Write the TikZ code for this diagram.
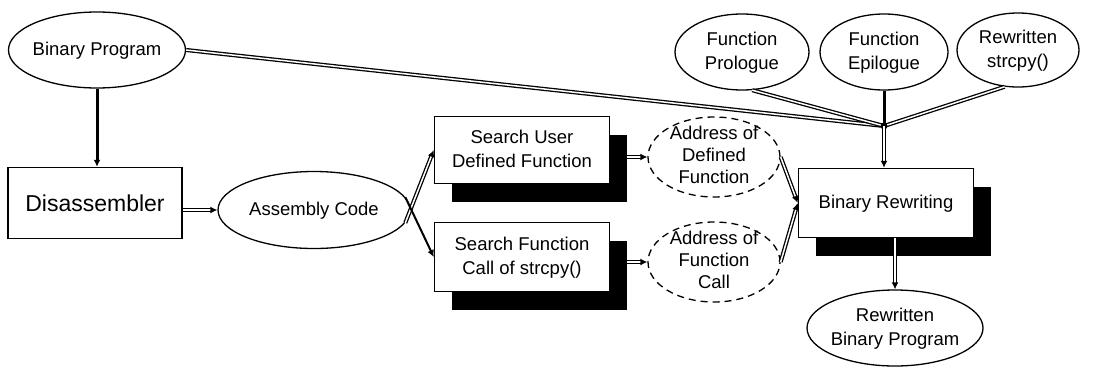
\documentclass[tikz,border=0pt]{standalone}
\usepackage{fontspec}
\setmainfont{Liberation Sans}
\usetikzlibrary{shapes.geometric,shadows,arrows.meta}
\newcommand{\zt}[1]{\makebox[0pt]{\smash{\raisebox{-0.25em}{\begin{tabular}{@{}c@{}}#1\end{tabular}}}}}
\tikzset{
  ell/.style={ellipse, draw, line width=1.3pt, inner sep=0pt, font=\fontsize{18.5}{24}\selectfont},
  dell/.style={ellipse, draw, line width=1.3pt, dash pattern=on 7pt off 5pt, inner sep=0pt, font=\fontsize{18.5}{22}\selectfont},
  box/.style={rectangle, draw, line width=1.5pt, fill=white, inner sep=0pt, font=\fontsize{18.5}{24}\selectfont},
  shad/.style={drop shadow={shadow xshift=17pt, shadow yshift=-18pt, fill=black, opacity=1}},
  tip/.style={-{Latex[length=7pt,width=7pt]}},
  dbl/.style={line width=1.3pt, double, double distance=1.5pt},
  dblc/.style={dbl, tip},
  solidl/.style={line width=3pt},
  solidc/.style={line width=3pt, tip},
  thinc/.style={line width=2pt, tip}
}
\begin{document}
\begin{tikzpicture}[x=1pt,y=-1pt]
\useasboundingbox (0,0) rectangle (1099,367);
% nodes
\node[ell, minimum width=177, minimum height=76] (bp) at (97,50) {\zt{Binary Program}};
\node[box, minimum width=174, minimum height=71, font=\fontsize{23}{27}\selectfont] (dis) at (95,203) {Disassembler};
\node[ell, minimum width=192, minimum height=77] (asm) at (314,210) {\zt{Assembly Code}};
\node[box, shad, minimum width=175, minimum height=67] (su) at (522,150) {\zt{Search User\\Defined Function}};
\node[box, shad, minimum width=175, minimum height=69] (sf) at (522,257) {\zt{Search Function\\Call of strcpy()}};
\node[dell, minimum width=132, minimum height=80] (ad1) at (714,157) {\zt{Address of\\Defined\\Function}};
\node[dell, minimum width=132, minimum height=80] (ad2) at (714,262) {\zt{Address of\\Function\\Call}};
\node[box, shad, minimum width=175, minimum height=69] (br) at (886,203) {\zt{Binary Rewriting}};
\node[ell, minimum width=176, minimum height=76] (rbp) at (895,328) {\zt{Rewritten\\Binary Program}};
\node[ell, minimum width=134, minimum height=76] (pro) at (742,52) {\zt{Function\\Prologue}};
\node[ell, minimum width=128, minimum height=76] (epi) at (884,52) {\zt{Function\\Epilogue}};
\node[ell, minimum width=122, minimum height=74] (str) at (1018,50) {\zt{Rewritten\\strcpy()}};
\coordinate (J) at (884,126);
\path (su.east) ++(17,0) coordinate (sue);
\path (sf.east) ++(17,0) coordinate (sfe);
% connectors
\draw[solidc] (bp.south) -- (bp.south |- dis.north);
\draw[dblc] (dis.east |- asm.west) -- (asm.west);
\draw[dblc] (asm.-8) -- (su.west);
\draw[thinc] (asm.8) -- (sf.west);
\draw[dblc] (sue |- ad1.west) -- (ad1.west);
\draw[dblc] (sfe |- ad2.west) -- (ad2.west);
\draw[dblc] (ad1.east) -- (br.west);
\draw[dblc] (ad2.east) -- (br.west);
\draw[dbl] (bp.east) -- (J);
\draw[dbl] (pro.-75) -- (J);
\draw[solidl] (epi.south) -- (J);
\draw[dbl] (str.250) -- (J);
\fill (J) circle (3.5);
\draw[dblc] (J) -- (J |- br.north);
\draw[dblc] (rbp.north |- br.south) -- (rbp.north);
\end{tikzpicture}
\end{document}
